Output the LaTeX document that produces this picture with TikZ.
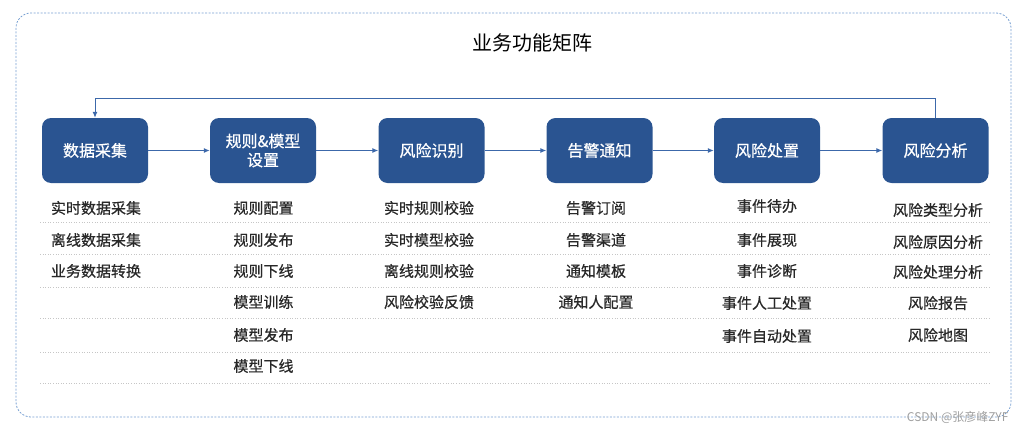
\documentclass[tikz,border=0pt]{standalone}
\usepackage{fontspec}
\setmainfont{Noto Sans CJK SC}
\newfontfamily\heavycjk{Noto Sans CJK SC}[FakeBold=0.6]
\usetikzlibrary{arrows.meta}

\definecolor{boxblue}{RGB}{42,84,145}
\definecolor{lineblue}{RGB}{60,104,170}
\definecolor{frameblue}{RGB}{120,160,210}
\definecolor{itemgray}{RGB}{40,40,40}

\tikzset{
  stage/.style={fill=boxblue, rounded corners=9pt, minimum width=106pt, minimum height=65pt,
    text=white, font=\heavycjk\fontsize{16}{19}\selectfont, align=center, inner sep=0pt},
  item/.style={text=itemgray, font=\heavycjk\fontsize{15}{18}\selectfont, inner sep=0pt},
  flow/.style={draw=lineblue, line width=1pt, -{Latex[length=6pt,width=5pt]}},
  sep/.style={draw=gray!45, dotted, line width=0.6pt},
  frame/.style={draw=frameblue, dash pattern=on 2pt off 1.5pt, line width=0.8pt, rounded corners=15pt}
}

\begin{document}
\begin{tikzpicture}[x=1pt,y=-1pt]
  \useasboundingbox (0,0) rectangle (1024,428);

  % Draw the outer dashed frame and the title
  \draw[frame] (16,13) rectangle (1011,417);
  \node[font=\fontsize{20}{24}\selectfont] (title) at (532,43) {业务功能矩阵};

  % Stage boxes
  \node[stage] (collect) at (95,150.5) {数据采集};
  \node[stage] (rules) at (263,150.5) {规则\&模型\\设置};
  \node[stage] (detect) at (431.5,150.5) {风险识别};
  \node[stage] (alert) at (599.5,150.5) {告警通知};
  \node[stage] (handle) at (767,150.5) {风险处置};
  \node[stage] (analyse) at (935.5,150.5) {风险分析};

  % Flow arrows and the feedback loop
  \draw[flow] (collect) -- (rules);
  \draw[flow] (rules) -- (detect);
  \draw[flow] (detect) -- (alert);
  \draw[flow] (alert) -- (handle);
  \draw[flow] (handle) -- (analyse);
  \draw[flow] (analyse.north) -- ++(0,-19) -| (collect.north);

  % Dotted row separators
  \foreach \y in {222,254,287,318,352,383}
    \draw[sep] (40,\y) -- (990,\y);

  % Function items under each stage
  \foreach \y/\txt [count=\r] in {208/实时数据采集, 240/离线数据采集, 271/业务数据转换}
    \node[item] (collect-\r) at (96,\y) {\txt};
  \foreach \y/\txt [count=\r] in {208/规则配置, 240/规则发布, 271/规则下线, 302/模型训练, 335/模型发布, 366/模型下线}
    \node[item] (rules-\r) at (263.5,\y) {\txt};
  \foreach \y/\txt [count=\r] in {208/实时规则校验, 240/实时模型校验, 271/离线规则校验, 302/风险校验反馈}
    \node[item] (detect-\r) at (429,\y) {\txt};
  \foreach \y/\txt [count=\r] in {208/告警订阅, 240/告警渠道, 271/通知模板, 302/通知人配置}
    \node[item] (alert-\r) at (596,\y) {\txt};
  \foreach \y/\txt [count=\r] in {206/事件待办, 240/事件展现, 271/事件诊断, 303/事件人工处置, 336/事件自动处置}
    \node[item] (handle-\r) at (767,\y) {\txt};
  \foreach \y/\txt [count=\r] in {210/风险类型分析, 242/风险原因分析, 272/风险处理分析, 303/风险报告, 335/风险地图}
    \node[item] (analyse-\r) at (938,\y) {\txt};

  % Watermark
  \node[anchor=east, text=gray!75, font=\fontsize{12}{14}\selectfont] (mark) at (1012,417) {CSDN @张彦峰ZYF};
\end{tikzpicture}
\end{document}
